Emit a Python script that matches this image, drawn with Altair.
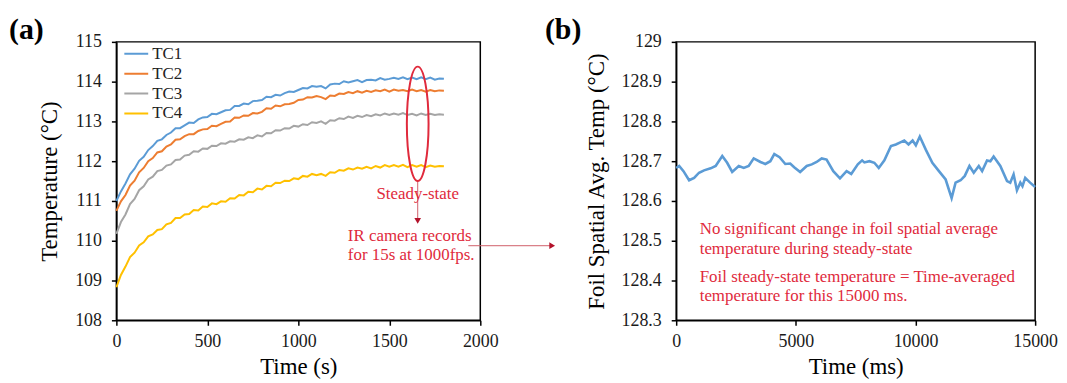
import altair as alt
import pandas as pd

# ---------------- panel (a) data ----------------
time_s = [0, 25, 50, 75, 100, 125, 150, 175, 200, 225,
          250, 275, 300, 325, 350, 375, 400, 425, 450, 475,
          500, 525, 550, 575, 600, 625, 650, 675, 700, 725,
          750, 775, 800, 825, 850, 875, 900, 925, 950, 975,
          1000, 1025, 1050, 1075, 1100, 1125, 1150, 1175, 1200, 1225,
          1250, 1275, 1300, 1325, 1350, 1375, 1400, 1425, 1450, 1475,
          1500, 1525, 1550, 1575, 1600, 1625, 1650, 1675, 1700, 1725,
          1750, 1775, 1800]

tc1 = [111.00, 111.24, 111.44, 111.67, 111.81, 112.01, 112.11, 112.28, 112.38, 112.51,
       112.55, 112.66, 112.72, 112.83, 112.83, 112.90, 112.97, 112.96, 113.05, 113.10,
       113.11, 113.19, 113.18, 113.23, 113.28, 113.29, 113.39, 113.39, 113.45, 113.43,
       113.51, 113.52, 113.54, 113.62, 113.61, 113.67, 113.65, 113.71, 113.75, 113.74,
       113.79, 113.84, 113.83, 113.89, 113.87, 113.89, 113.83, 113.93, 113.95, 113.94,
       114.01, 113.98, 114.01, 114.04, 113.99, 114.04, 114.05, 114.03, 114.09, 114.05,
       114.07, 114.10, 114.07, 114.11, 114.06, 114.10, 114.06, 114.11, 114.06, 114.10,
       114.05, 114.08, 114.07]
tc2 = [110.75, 110.99, 111.15, 111.39, 111.51, 111.72, 111.83, 112.00, 112.08, 112.22,
       112.25, 112.37, 112.42, 112.54, 112.55, 112.63, 112.68, 112.68, 112.76, 112.80,
       112.81, 112.89, 112.88, 112.94, 112.99, 113.00, 113.10, 113.09, 113.15, 113.14,
       113.21, 113.20, 113.24, 113.33, 113.32, 113.40, 113.38, 113.43, 113.44, 113.47,
       113.54, 113.55, 113.61, 113.60, 113.64, 113.61, 113.56, 113.65, 113.64, 113.70,
       113.69, 113.74, 113.71, 113.76, 113.72, 113.77, 113.74, 113.78, 113.76, 113.80,
       113.75, 113.80, 113.77, 113.79, 113.76, 113.80, 113.76, 113.79, 113.75, 113.79,
       113.76, 113.78, 113.77]
tc3 = [110.17, 110.47, 110.66, 110.92, 111.05, 111.27, 111.37, 111.54, 111.61, 111.75,
       111.78, 111.89, 111.92, 112.03, 112.04, 112.14, 112.16, 112.25, 112.24, 112.32,
       112.31, 112.39, 112.38, 112.45, 112.44, 112.50, 112.49, 112.55, 112.54, 112.60,
       112.58, 112.65, 112.62, 112.71, 112.70, 112.78, 112.77, 112.83, 112.82, 112.89,
       112.87, 112.93, 112.91, 112.98, 112.96, 113.00, 112.94, 113.03, 113.02, 113.08,
       113.06, 113.12, 113.09, 113.14, 113.11, 113.16, 113.13, 113.18, 113.15, 113.20,
       113.16, 113.20, 113.17, 113.21, 113.16, 113.19, 113.15, 113.20, 113.16, 113.19,
       113.16, 113.18, 113.17]
tc4 = [108.83, 109.14, 109.35, 109.59, 109.70, 109.88, 109.96, 110.11, 110.16, 110.27,
       110.29, 110.41, 110.45, 110.57, 110.57, 110.66, 110.67, 110.77, 110.76, 110.86,
       110.85, 110.94, 110.92, 110.99, 110.98, 111.07, 111.06, 111.15, 111.14, 111.23,
       111.22, 111.31, 111.29, 111.38, 111.37, 111.46, 111.45, 111.51, 111.50, 111.57,
       111.55, 111.63, 111.61, 111.68, 111.65, 111.68, 111.63, 111.72, 111.71, 111.78,
       111.76, 111.82, 111.79, 111.84, 111.81, 111.86, 111.82, 111.88, 111.84, 111.90,
       111.86, 111.90, 111.86, 111.91, 111.85, 111.90, 111.86, 111.90, 111.85, 111.89,
       111.86, 111.88, 111.87]

series_names = ["TC1", "TC2", "TC3", "TC4"]
series_colors = ["#5b9bd5", "#ed7d31", "#a5a5a5", "#ffc000"]

# annotation anchors for panel (a) (data units)
ellipse_x = [1656]
ellipse_y = [112.94]
note_a_x = [1656, 1272, 1272]
note_a_y = [111.18, 110.13, 109.63]
note_a_text = ["Steady-state", "IR camera records", "for 15s at 1000fps."]
note_a_align = ["center", "left", "left"]
vline_x, vline_y, vline_y2 = [1656], [111.50], [110.50]
harrow_x, harrow_x2, harrow_y = [1934], [2395], [109.875]

# ---------------- panel (b) data ----------------
time_ms = [0, 125, 305, 540, 750, 955, 1165, 1440, 1650, 1925,
           2130, 2340, 2615, 2825, 3030, 3240, 3520, 3725, 3935, 4100,
           4320, 4560, 4765, 4930, 5180, 5455, 5665, 5870, 6080, 6285,
           6565, 6845, 7120, 7315, 7590, 7770, 7865, 8075, 8280, 8465,
           8700, 8975, 9180, 9390, 9530, 9710, 9880, 10015, 10180, 10430,
           10705, 10980, 11260, 11510, 11675, 11885, 12060, 12255, 12435, 12645,
           12785, 12990, 13130, 13265, 13545, 13825, 13960, 14100, 14240, 14380,
           14470, 14585, 14790, 15000]
foil_temp = [128.683, 128.688, 128.675, 128.652, 128.658, 128.671, 128.677, 128.682, 128.688, 128.713,
             128.696, 128.673, 128.688, 128.683, 128.688, 128.707, 128.698, 128.693, 128.700, 128.718,
             128.710, 128.693, 128.694, 128.685, 128.673, 128.688, 128.692, 128.698, 128.707, 128.704,
             128.675, 128.657, 128.675, 128.668, 128.692, 128.702, 128.697, 128.700, 128.696, 128.683,
             128.702, 128.738, 128.742, 128.748, 128.752, 128.742, 128.752, 128.740, 128.762, 128.729,
             128.696, 128.675, 128.654, 128.607, 128.646, 128.652, 128.663, 128.688, 128.671, 128.688,
             128.675, 128.702, 128.700, 128.712, 128.688, 128.650, 128.646, 128.667, 128.627, 128.646,
             128.637, 128.658, 128.646, 128.635]

note_b_x = [982, 982, 982, 982]
note_b_y = [128.530, 128.480, 128.4075, 128.360]
note_b_text = ["No significant change in foil spatial average",
               "temperature during steady-state",
               "Foil steady-state temperature = Time-averaged",
               "temperature for this 15000 ms."]

y_ticks_a = [108, 109, 110, 111, 112, 113, 114, 115]
x_ticks_a = [0, 500, 1000, 1500, 2000]
y_ticks_b = [128.3, 128.4, 128.5, 128.6, 128.7, 128.8, 128.9, 129.0]
x_ticks_b = [0, 5000, 10000, 15000]

RED = "#e02a3c"
ARROW = "#d0606a"
ARROWHEAD = "#b3122a"
FONT = "Liberation Serif"

# ---------------- build tables ----------------
rows = []
for name, vals in zip(series_names, [tc1, tc2, tc3, tc4]):
    for t, v in zip(time_s, vals):
        rows.append({"t": t, "temp": v, "series": name})
df_a = pd.DataFrame(rows)
df_b = pd.DataFrame({"t": time_ms, "temp": foil_temp})


def axis(values, fmt):
    return alt.Axis(values=values, format=fmt, labelOverlap=False, labelFlush=False,
                    tickCount=len(values),
                    labelFont=FONT, labelFontSize=18, labelColor="#1a1a1a",
                    titleFont=FONT, titleFontSize=23, titleFontWeight="normal",
                    titleColor="black", grid=False)


sx_a = alt.Scale(domain=[0, 2000], nice=False)
sy_a = alt.Scale(domain=[108, 115], nice=False, zero=False)
sx_b = alt.Scale(domain=[0, 15000], nice=False)
sy_b = alt.Scale(domain=[128.3, 129.0], nice=False, zero=False)


def xa(field):
    return alt.X(field, type="quantitative", title="Time (s)", scale=sx_a,
                 axis=axis(x_ticks_a, "d"))


def ya(field):
    return alt.Y(field, type="quantitative", title="Temperature (°C)", scale=sy_a,
                 axis=axis(y_ticks_a, "d"))


def xb(field):
    return alt.X(field, type="quantitative", title="Time (ms)", scale=sx_b,
                 axis=axis(x_ticks_b, "d"))


def yb(field):
    return alt.Y(field, type="quantitative", title="Foil Spatial Avg. Temp (°C)", scale=sy_b,
                 axis=axis(y_ticks_b, ".1~f"))


lines_a = alt.Chart(df_a).mark_line(strokeWidth=2).encode(
    x=xa("t"), y=ya("temp"),
    color=alt.Color("series:N",
                    scale=alt.Scale(domain=series_names, range=series_colors),
                    legend=alt.Legend(title=None, orient="none", legendX=7, legendY=2,
                                      symbolType="stroke", symbolSize=576,
                                      symbolStrokeWidth=2, clipHeight=20,
                                      rowPadding=0, labelOffset=3, padding=0,
                                      labelFont=FONT, labelFontSize=17,
                                      labelColor="#222222")),
    detail="series:N",
)

ell_path = "M 0 -1 A 0.19 1 0 1 1 0 1 A 0.19 1 0 1 1 0 -1 Z"
ellipse = alt.Chart(pd.DataFrame({"t": ellipse_x, "temp": ellipse_y})).mark_point(
    shape=ell_path, size=13225, filled=False, color=RED, strokeWidth=2, opacity=1
).encode(x=xa("t"), y=ya("temp"))

vline = alt.Chart(pd.DataFrame({"t": vline_x, "temp": vline_y, "temp2": vline_y2})).mark_rule(
    color=ARROW, strokeWidth=1
).encode(x=xa("t"), y=ya("temp"), y2="temp2")
vhead = alt.Chart(pd.DataFrame({"t": vline_x, "temp": vline_y2})).mark_point(
    shape="triangle-down", size=45, filled=True, color=ARROWHEAD, opacity=1
).encode(x=xa("t"), y=ya("temp"))

hline = alt.Chart(pd.DataFrame({"t": harrow_x, "t2": harrow_x2, "temp": harrow_y})).mark_rule(
    color=ARROW, strokeWidth=1
).encode(x=xa("t"), x2="t2", y=ya("temp"))
hhead = alt.Chart(pd.DataFrame({"t": harrow_x2, "temp": harrow_y})).mark_point(
    shape="triangle-right", size=45, filled=True, color=ARROWHEAD, opacity=1
).encode(x=xa("t"), y=ya("temp"))

df_note_a = pd.DataFrame({"t": note_a_x, "temp": note_a_y, "label": note_a_text,
                          "al": note_a_align})
note_a_center = alt.Chart(df_note_a[df_note_a["al"] == "center"]).mark_text(
    font=FONT, fontSize=17, color=RED, align="center", baseline="middle"
).encode(x=xa("t"), y=ya("temp"), text="label:N")
note_a_left = alt.Chart(df_note_a[df_note_a["al"] == "left"]).mark_text(
    font=FONT, fontSize=17, color=RED, align="left", baseline="middle"
).encode(x=xa("t"), y=ya("temp"), text="label:N")

label_a = alt.Chart(pd.DataFrame({"lab": ["(a)"]})).mark_text(
    font=FONT, fontSize=30, fontWeight="bold", color="black", align="left", baseline="top"
).encode(x=alt.value(-108), y=alt.value(-27), text="lab:N")

panel_a = alt.layer(lines_a, vline, vhead, hline, hhead, ellipse,
                    note_a_center, note_a_left, label_a).properties(width=366, height=280)

line_b = alt.Chart(df_b).mark_line(strokeWidth=2.6, color="#5b9bd5").encode(
    x=xb("t"), y=yb("temp"))

note_b = alt.Chart(pd.DataFrame({"t": note_b_x, "temp": note_b_y, "label": note_b_text})).mark_text(
    font=FONT, fontSize=17, color=RED, align="left", baseline="middle"
).encode(x=xb("t"), y=yb("temp"), text="label:N")

label_b = alt.Chart(pd.DataFrame({"lab": ["(b)"]})).mark_text(
    font=FONT, fontSize=30, fontWeight="bold", color="black", align="left", baseline="top"
).encode(x=alt.value(-132), y=alt.value(-27), text="lab:N")

panel_b = alt.layer(line_b, note_b, label_b).properties(width=361, height=280)

chart = alt.hconcat(panel_a, panel_b, spacing=197, bounds="flush").properties(
    padding={"left": 0, "top": 5, "right": 0, "bottom": 0}
).configure_view(
    stroke="black", strokeWidth=1.5
).configure_axis(
    grid=False, labelFont=FONT, labelFontSize=18, labelColor="#1a1a1a",
    titleFont=FONT, titleFontSize=23, titleFontWeight="normal", titleColor="black",
    domainColor="black", domainWidth=1.5, tickColor="black", tickWidth=1.5, tickSize=5,
    labelFlush=False, labelOverlap=False
).configure_axisX(
    labelPadding=7, titlePadding=6
).configure_axisY(
    labelPadding=10, titlePadding=13
)

chart.save("out.html", embed_options={"renderer": "svg", "actions": False})
